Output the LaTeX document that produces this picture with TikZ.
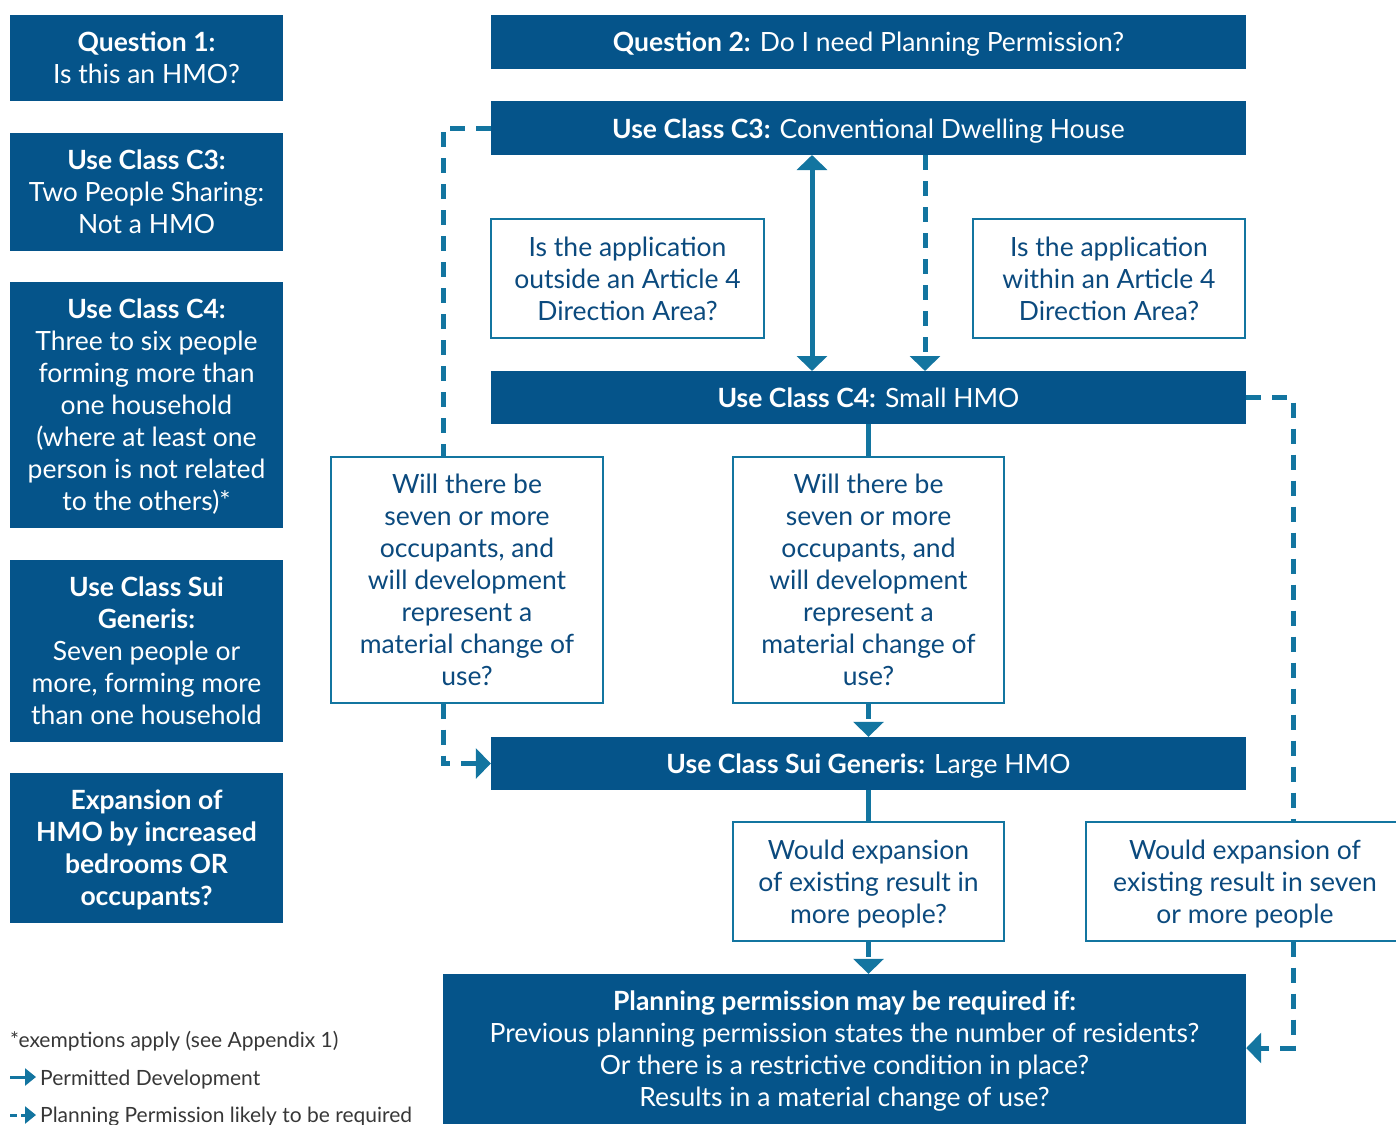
\documentclass[tikz,border=0pt]{standalone}
\usepackage{fontspec}
\setmainfont{Lato}
\usetikzlibrary{arrows.meta}
\definecolor{boxblue}{RGB}{5,84,138}
\definecolor{arrowc}{RGB}{19,117,160}
\definecolor{textblue}{RGB}{11,74,126}
\definecolor{legendgray}{RGB}{55,55,55}
\begin{document}
\begin{tikzpicture}[x=1pt,y=-1pt,
  boxfont/.style={font=\fontsize{26.5}{32}\selectfont},
  multistrut/.style={execute at begin node={\rule{0pt}{33.5pt}}, text depth=-3pt},
  onestrut/.style={execute at begin node={\rule[-6pt]{0pt}{32pt}}},
  darkbox/.style={fill=boxblue, text=white, inner sep=0pt, align=center, boxfont, multistrut},
  darkbar/.style={fill=boxblue, text=white, inner sep=0pt, align=center, boxfont, onestrut},
  whitebox/.style={draw=arrowc, line width=1.2pt, fill=white, text=textblue, inner sep=0pt, align=center, boxfont, multistrut},
  solidc/.style={draw=arrowc, line width=5pt},
  dashc/.style={draw=arrowc, line width=5pt, dash pattern=on 15pt off 11pt},
  tipend/.style={-{Triangle[width=30pt,length=15pt]}},
  tipboth/.style={{Triangle[width=30pt,length=15pt]}-{Triangle[width=30pt,length=15pt]}},
  legtext/.style={anchor=base west, inner sep=0pt, text=legendgray, font=\fontsize{21}{24}\selectfont},
]
\useasboundingbox (0,0) rectangle (1396,1124);

% left column
\node[darkbox, minimum width=273, minimum height=86] (q1) at (146.5,58) {\textbf{Question 1:}\\Is this an HMO?};
\node[darkbox, minimum width=273, minimum height=118] (lc3) at (146.5,192) {\textbf{Use Class C3:}\\Two People Sharing:\\Not a HMO};
\node[darkbox, minimum width=273, minimum height=246] (lc4) at (146.5,405) {\textbf{Use Class C4:}\\Three to six people\\forming more than\\one household\\(where at least one\\person is not related\\to the others)*};
\node[darkbox, minimum width=273, minimum height=182] (lsg) at (146.5,651) {\textbf{Use Class Sui}\\\textbf{Generis:}\\Seven people or\\more, forming more\\than one household};
\node[darkbox, minimum width=273, minimum height=150] (lexp) at (146.5,848) {\textbf{Expansion of}\\\textbf{HMO by increased}\\\textbf{bedrooms OR}\\\textbf{occupants?}};

% right flow
\node[darkbar, minimum width=755, minimum height=54] (q2) at (868.5,42) {\textbf{Question 2:} Do I need Planning Permission?};
\node[darkbar, minimum width=755, minimum height=54] (c3) at (868.5,128) {\textbf{Use Class C3:} Conventional Dwelling House};
\node[whitebox, minimum width=273, minimum height=119] (outside) at (627.5,278.5) {Is the application\\outside an Article 4\\Direction Area?};
\node[whitebox, minimum width=272, minimum height=119] (within) at (1109,278.5) {Is the application\\within an Article 4\\Direction Area?};
\node[darkbar, minimum width=755, minimum height=53] (c4) at (868.5,397.5) {\textbf{Use Class C4:} Small HMO};
\node[whitebox, minimum width=272, minimum height=246] (willl) at (467,580) {Will there be\\seven or more\\occupants, and\\will development\\represent a\\material change of\\use?};
\node[whitebox, minimum width=271, minimum height=246] (willm) at (868.5,580) {Will there be\\seven or more\\occupants, and\\will development\\represent a\\material change of\\use?};
\node[darkbar, minimum width=755, minimum height=53] (sg) at (868.5,763.5) {\textbf{Use Class Sui Generis:} Large HMO};
\node[whitebox, minimum width=271, minimum height=119] (would) at (868.5,881.5) {Would expansion\\of existing result in\\more people?};
\node[whitebox, minimum width=318, minimum height=119] (seven) at (1245,881.5) {Would expansion of\\existing result in seven\\or more people};
\node[darkbox, minimum width=803, minimum height=150] (pp) at (844.5,1049) {\textbf{Planning permission may be required if:}\\Previous planning permission states the number of residents?\\Or there is a restrictive condition in place?\\Results in a material change of use?};

% connectors
\coordinate (da) at (812,155);
\coordinate (db) at (812,371);
\coordinate (ea) at (925,155);
\coordinate (eb) at (925,371);
\draw[solidc, tipboth] (da) -- (db);
\draw[dashc, tipend] (ea) -- (eb);
\draw[solidc] (c4.south) -- (willm.north);
\draw[dashc, tipend] (willm.south) -- (sg.north);
\draw[solidc] (sg.south) -- (would.north);
\draw[dashc, tipend] (would.south) -- (pp.north -| would.south);

\coordinate (lt) at (443,128);
\draw[dashc] (c3.west |- lt) -- (lt) -- (willl.north -| lt);
\coordinate (lb) at (443,763.5);
\draw[dashc, tipend] (willl.south -| lb) -- (lb) -- (sg.west |- lb);

\coordinate (rt) at (1293,397.5);
\draw[dashc] (c4.east |- rt) -- (rt) -- (seven.north -| rt);
\coordinate (rb) at (1293,1048);
\draw[dashc, tipend] (seven.south -| rb) -- (rb) -- (pp.east |- rb);

% legend
\node[legtext] (note) at (10,1047) {*exemptions apply (see Appendix 1)};
\coordinate (la1) at (10,1077);
\coordinate (la2) at (36,1077);
\draw[draw=arrowc, line width=3pt, -{Triangle[width=17pt,length=11pt]}] (la1) -- (la2);
\node[legtext] (pd) at (40,1085) {Permitted Development};
\coordinate (lb1) at (10,1115);
\coordinate (lb2) at (36,1115);
\draw[draw=arrowc, line width=3pt, dash pattern=on 7pt off 4pt, -{Triangle[width=17pt,length=11pt]}] (lb1) -- (lb2);
\node[legtext] (pp2) at (40,1122) {Planning Permission likely to be required};
\end{tikzpicture}
\end{document}
